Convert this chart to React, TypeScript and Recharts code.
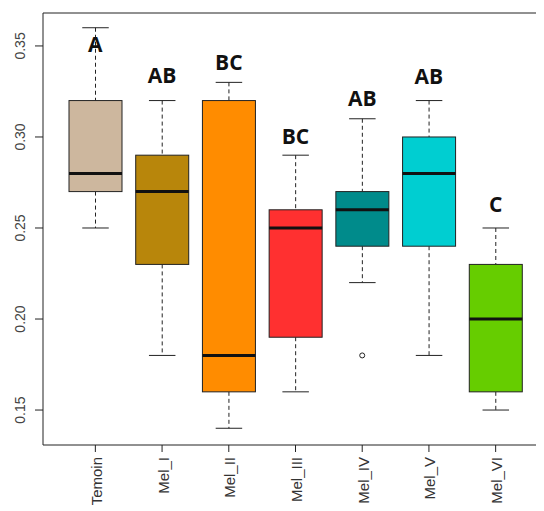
import React from 'react';
import { ComposedChart, Bar, Scatter, XAxis, YAxis, ReferenceLine } from 'recharts';

const categories = ['Temoin', 'Mel_I', 'Mel_II', 'Mel_III', 'Mel_IV', 'Mel_V', 'Mel_VI'];
const whiskerLow = [0.25, 0.18, 0.14, 0.16, 0.22, 0.18, 0.15];
const q1 = [0.27, 0.23, 0.16, 0.19, 0.24, 0.24, 0.16];
const median = [0.28, 0.27, 0.18, 0.25, 0.26, 0.28, 0.2];
const q3 = [0.32, 0.29, 0.32, 0.26, 0.27, 0.3, 0.23];
const whiskerHigh = [0.36, 0.32, 0.33, 0.29, 0.31, 0.32, 0.25];
const outliers: (number | null)[] = [null, null, null, null, 0.18, null, null];
const letters = ['A', 'AB', 'BC', 'BC', 'AB', 'AB', 'C'];
const letterY = [0.351, 0.334, 0.341, 0.3, 0.321, 0.333, 0.263];
const fills = ['#CDB79E', '#B8860B', '#FF8C00', '#FF3030', '#008B8B', '#00CED1', '#66CD00'];
const yTicks = [0.15, 0.2, 0.25, 0.3, 0.35];
const yMin = 0.1308;
const yMax = 0.3681;

const data = categories.map((name, i) => ({
  name,
  range: [whiskerLow[i], whiskerHigh[i]],
  lo: whiskerLow[i],
  q1: q1[i],
  med: median[i],
  q3: q3[i],
  hi: whiskerHigh[i],
  outlier: outliers[i],
  letter: letters[i],
  letterY: letterY[i],
  fill: fills[i],
}));

const BoxShape = (props: any) => {
  const { x, y, width, height, payload } = props;
  const lo = payload.lo;
  const hi = payload.hi;
  const top = Math.min(y, y + height);
  const h = Math.abs(height);
  const k = h / (hi - lo);
  const py = (v: number) => top + (hi - v) * k;
  const cx = x + width / 2;
  const cap = width / 4;
  return (
    <g>
      <line x1={cx} x2={cx} y1={py(hi)} y2={py(payload.q3)} stroke="#222" strokeWidth={1} strokeDasharray="4 3" />
      <line x1={cx} x2={cx} y1={py(payload.q1)} y2={py(lo)} stroke="#222" strokeWidth={1} strokeDasharray="4 3" />
      <line x1={cx - cap} x2={cx + cap} y1={py(hi)} y2={py(hi)} stroke="#222" strokeWidth={1} />
      <line x1={cx - cap} x2={cx + cap} y1={py(lo)} y2={py(lo)} stroke="#222" strokeWidth={1} />
      <rect x={x} y={py(payload.q3)} width={width} height={py(payload.q1) - py(payload.q3)} fill={payload.fill} stroke="#222" strokeWidth={1} />
      <line x1={x} x2={x + width} y1={py(payload.med)} y2={py(payload.med)} stroke="#111" strokeWidth={3} />
    </g>
  );
};

const OutlierShape = (props: any) => {
  const { cx, cy, payload } = props;
  if (payload.outlier == null) return <g />;
  return <circle cx={cx} cy={cy} r={2.5} fill="none" stroke="#222" strokeWidth={1} />;
};

const LetterShape = (props: any) => {
  const { cx, cy, payload } = props;
  return (
    <text x={cx} y={cy} dy={7.5} textAnchor="middle" fontFamily="'Open Sans', sans-serif" fontWeight={700} fontSize={21} fill="#111">
      {payload.letter}
    </text>
  );
};

const YTick = (props: any) => {
  const { y, payload } = props;
  const tx = 12;
  return (
    <text x={tx} y={y} transform={`rotate(-90, ${tx}, ${y})`} textAnchor="middle" dominantBaseline="central" fontFamily="'Liberation Sans', Arial, sans-serif" fontSize={14} fill="#444">
      {Number(payload.value).toFixed(2)}
    </text>
  );
};

const XTick = (props: any) => {
  const { x, payload } = props;
  const ty = 449;
  const tx = x + 1;
  return (
    <text x={tx} y={ty} transform={`rotate(-90, ${tx}, ${ty})`} textAnchor="end" dominantBaseline="central" fontFamily="'Liberation Sans', Arial, sans-serif" fontSize={15} fill="#333">
      {payload.value}
    </text>
  );
};

export default function App() {
  return (
    <div style={{ width: 536, height: 503, overflow: 'hidden' }}>
      <ComposedChart width={540} height={503} data={data} margin={{ top: 5, right: 1, bottom: 0, left: 0 }}>
        <XAxis
          dataKey="name"
          type="category"
          height={66}
          padding={{ left: 19, right: 18 }}
          tickSize={7}
          tick={<XTick />}
          axisLine={{ stroke: '#222' }}
          tickLine={{ stroke: '#222' }}
          interval={0}
        />
        <YAxis
          type="number"
          domain={[yMin, yMax]}
          ticks={yTicks}
          allowDataOverflow
          width={35}
          tickSize={8}
          tick={<YTick />}
          axisLine={{ stroke: '#222' }}
          tickLine={{ stroke: '#222' }}
        />
        <ReferenceLine y={yMax} stroke="#222" strokeWidth={1} />
        <Bar dataKey="range" barSize={53} shape={<BoxShape />} isAnimationActive={false} />
        <Scatter dataKey="outlier" shape={<OutlierShape />} isAnimationActive={false} />
        <Scatter dataKey="letterY" shape={<LetterShape />} isAnimationActive={false} />
      </ComposedChart>
    </div>
  );
}
